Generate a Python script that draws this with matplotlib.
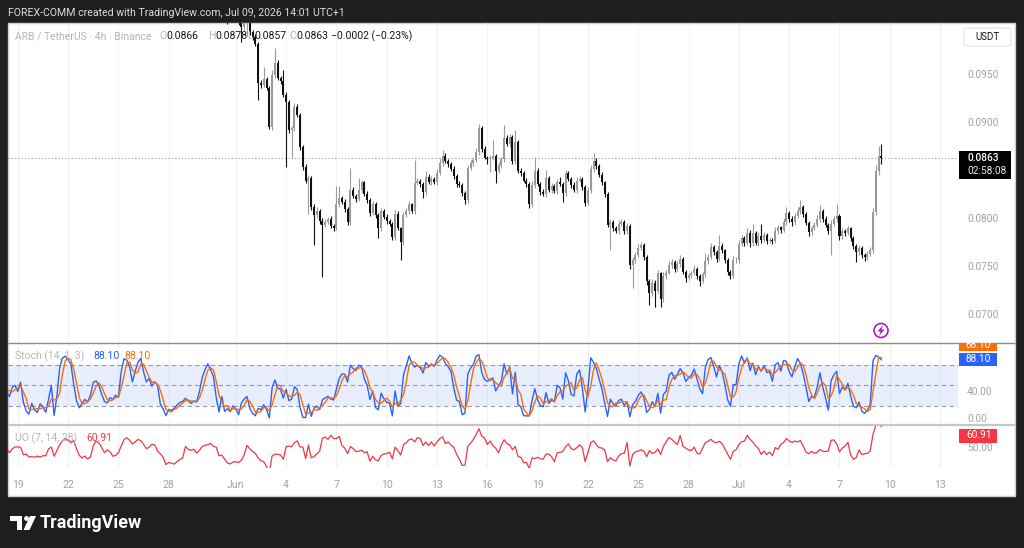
import numpy as np
import pandas as pd
import matplotlib
matplotlib.use("Agg")
import matplotlib.pyplot as plt
from matplotlib import transforms
from matplotlib.patches import Rectangle, FancyBboxPatch, Circle, Polygon

plt.rcParams["font.family"] = ["Roboto", "DejaVu Sans"]

# ARB/USDT 4h closes, in units of 0.0001 USDT
# May 13 .. May 31 (mostly above the visible price range)
may_close = [
    1075, 1080, 1072, 1068, 1076, 1083, 1078, 1070, 1065, 1073, 1081, 1086, 1079, 1074, 1069,
    1077, 1084, 1080, 1075, 1070, 1066, 1072, 1078, 1075, 1069, 1064, 1070, 1076, 1072,
    1070, 1074, 1071, 1069, 1072,
    1064, 1060, 1056, 1058, 1055, 1053, 1057, 1054, 1051, 1056, 1062,
    1042,
    1052, 1068, 1076, 1079, 1081, 1078,
    1064, 1052, 1047,
    1050, 1053, 1051, 1056,
    1065, 1067, 1064,
    1058, 1053, 1051, 1054, 1050, 1052, 1053,
    1064, 1071, 1073, 1070,
    1063, 1068,
    1077, 1082,
    1074, 1068, 1070, 1066, 1069, 1067, 1065,
    1052,
    1028, 1032,
    1031, 1033, 1036, 1038, 1037, 1039, 1037,
    1035, 1037, 1035,
    1041, 1044, 1042, 1045, 1043, 1042,
    1036, 1032, 1035, 1026,
    1010, 1008, 1012,
]
may_upper = [
    4, 3, 5, 2, 6, 3, 4, 2, 5, 3, 4, 6, 3, 2, 5, 4, 3, 6, 2, 4, 3, 5, 2, 4, 6, 3, 4, 2, 5, 3,
    4, 2, 6, 3, 5, 2, 4, 3, 6, 2, 5, 3, 4, 2, 3, 6, 2, 5, 4, 3, 6, 2, 4, 3, 5, 2, 4, 6, 3, 2,
    5, 4, 3, 6, 2, 4, 3, 5, 2, 6, 3, 4, 2, 5, 3, 6, 4, 2, 3, 5, 2, 4, 6, 3, 2, 5, 4, 3, 6, 2,
    4, 3, 5, 2, 6, 3, 4, 2, 5, 3, 4, 3, 5, 2, 6, 3, 4, 2, 5, 3,
]
may_lower = [
    3, 5, 2, 4, 3, 6, 2, 5, 3, 4, 2, 4, 5, 3, 6, 2, 4, 3, 5, 2, 6, 3, 4, 2, 5, 3, 4, 6, 2, 3,
    5, 2, 4, 3, 6, 3, 2, 5, 4, 3, 2, 6, 3, 4, 5, 2, 3, 4, 6, 2, 3, 5, 4, 2, 6, 3, 5, 2, 4, 3,
    4, 2, 6, 3, 5, 2, 4, 3, 2, 5, 3, 6, 2, 4, 3, 5, 2, 6, 3, 4, 5, 3, 2, 4, 6, 3, 5, 2, 4, 3,
    6, 2, 4, 3, 5, 3, 2, 4, 6, 3, 2, 4, 3, 5, 2, 4, 3, 7, 3, 2,
]

# Jun 1 00:00 .. Jul 9 12:00
jj_close = [
    1010, 1005, 1000, 1004, 1006, 995, 990, 983, 942, 940,
    946, 937, 896, 950, 963, 947, 944, 929, 922, 893,
    895, 917, 908, 875, 854, 840, 843, 812, 804, 808,
    798, 794, 797, 800, 793, 790, 815, 822, 818, 810,
    797, 830, 824, 821, 830, 838, 826, 820, 806, 815,
    804, 790, 808, 802, 798, 795, 781, 805, 790, 776,
    804, 808, 815, 808, 837, 840, 836, 828, 844, 838,
    842, 838, 848, 858, 866, 860, 857, 852, 845, 836,
    835, 827, 820, 853, 858, 861, 870, 895, 873, 864,
    862, 864, 866, 850, 856, 862, 884, 878, 885, 860,
    880, 850, 848, 840, 836, 815, 835, 850, 836, 828,
    826, 843, 830, 834, 829, 838, 836, 827, 848, 842,
    835, 830, 840, 842, 833, 817, 830, 852, 860, 855,
    846, 838, 826, 794, 797, 790, 787, 795, 797, 787,
    793, 752, 757, 762, 770, 773, 760, 735, 723, 733,
    725, 743, 716, 740, 744, 752, 755, 748, 753, 758,
    745, 738, 741, 743, 748, 740, 735, 742, 756, 760,
    771, 765, 758, 772, 767, 757, 745, 740, 757, 757,
    774, 780, 775, 785, 775, 785, 775, 782, 778, 783,
    777, 778, 777, 787, 791, 788, 797, 806, 800, 797,
    803, 808, 812, 805, 796, 786, 790, 794, 800, 808,
    800, 794, 787, 795, 800, 803, 782, 787, 785, 790,
    780, 772, 765, 770, 762, 760, 763, 768, 807, 850,
    866, 863,
]
jj_upper = [
    3, 4, 5, 3, 2, 3, 2, 3, 2, 3,
    12, 2, 2, 5, 15, 3, 2, 11, 3, 2,
    2, 4, 3, 2, 2, 3, 3, 2, 3, 4,
    2, 3, 3, 2, 3, 2, 19, 12, 2, 3,
    2, 23, 3, 2, 13, 3, 2, 3, 2, 4,
    3, 2, 3, 2, 3, 2, 2, 4, 3, 2,
    3, 3, 4, 2, 24, 3, 2, 2, 6, 3,
    3, 2, 4, 5, 6, 3, 2, 2, 3, 2,
    3, 2, 2, 3, 3, 2, 4, 4, 2, 3,
    2, 3, 16, 2, 3, 3, 14, 3, 4, 2,
    13, 2, 3, 2, 3, 2, 4, 15, 3, 2,
    3, 8, 2, 3, 2, 4, 6, 2, 3, 2,
    2, 3, 4, 3, 2, 2, 3, 4, 9, 3,
    2, 3, 2, 2, 3, 2, 3, 4, 3, 2,
    3, 2, 3, 3, 4, 3, 2, 2, 2, 4,
    3, 4, 2, 5, 3, 4, 3, 2, 3, 4,
    2, 2, 3, 3, 4, 2, 2, 3, 8, 3,
    4, 2, 2, 11, 3, 2, 2, 2, 4, 3,
    4, 3, 2, 5, 3, 10, 2, 4, 13, 3,
    2, 3, 2, 4, 3, 2, 4, 6, 2, 3,
    3, 4, 8, 2, 2, 2, 3, 3, 4, 6,
    2, 3, 2, 4, 3, 12, 2, 3, 2, 3,
    2, 2, 2, 3, 2, 2, 3, 3, 4, 6,
    10, 12,
]
jj_lower = [
    3, 3, 15, 3, 13, 3, 3, 3, 18, 3,
    2, 3, 2, 3, 3, 2, 3, 2, 68, 3,
    30, 3, 2, 3, 3, 3, 35, 3, 31, 3,
    3, 55, 3, 2, 3, 3, 2, 3, 2, 3,
    3, 3, 2, 3, 2, 3, 2, 3, 3, 2,
    3, 10, 3, 2, 3, 2, 3, 3, 2, 19,
    3, 2, 3, 2, 3, 2, 3, 6, 3, 2,
    3, 2, 3, 2, 3, 2, 3, 2, 3, 3,
    2, 3, 5, 3, 2, 3, 2, 3, 3, 2,
    5, 13, 3, 13, 2, 3, 3, 2, 3, 3,
    3, 2, 3, 2, 3, 4, 3, 3, 2, 3,
    2, 3, 2, 3, 2, 3, 2, 9, 3, 2,
    3, 2, 3, 2, 3, 4, 3, 3, 3, 3,
    2, 3, 3, 3, 27, 3, 2, 3, 2, 3,
    3, 4, 24, 3, 2, 3, 3, 4, 13, 3,
    17, 3, 8, 3, 3, 2, 3, 3, 2, 3,
    3, 4, 2, 3, 2, 3, 5, 2, 3, 3,
    2, 3, 3, 2, 3, 3, 4, 3, 2, 3,
    3, 2, 3, 2, 4, 3, 2, 3, 3, 2,
    3, 2, 3, 2, 3, 3, 2, 3, 3, 4,
    3, 2, 3, 3, 2, 4, 3, 2, 3, 3,
    3, 3, 3, 25, 2, 3, 4, 3, 3, 2,
    3, 3, 10, 3, 3, 4, 3, 2, 4, 3,
    4, 6,
]
first_open = 1070

tick_pos = [-78, -60, -42, -24, 0, 18, 36, 54, 72, 90, 108, 126, 144, 162, 180, 198, 216, 234, 252]
tick_lab = ["19", "22", "25", "28", "Jun", "4", "7", "10", "13", "16", "19", "22", "25",
            "28", "Jul", "4", "7", "10", "13"]
price_ticks = [0.0950, 0.0900, 0.0800, 0.0750, 0.0700]

# ---- build OHLC ----
close = np.array(may_close + jj_close) / 10000.0
openp = np.concatenate([[first_open / 10000.0], close[:-1]])
upper = np.array(may_upper + jj_upper) / 10000.0
lower = np.array(may_lower + jj_lower) / 10000.0
high = np.maximum(openp, close) + upper
low = np.minimum(openp, close) - lower
idx = np.arange(len(close)) - len(may_close)

# Stoch (14, 1, 3)
s_h = pd.Series(high).rolling(14).max()
s_l = pd.Series(low).rolling(14).min()
k = 100 * (pd.Series(close) - s_l) / (s_h - s_l)
d = k.rolling(3).mean()

# Ultimate oscillator (7, 14, 28)
pc = pd.Series(close).shift(1)
mn = np.minimum(pd.Series(low), pc)
mx = np.maximum(pd.Series(high), pc)
bp = pd.Series(close) - mn
tr = mx - mn
a7 = bp.rolling(7).sum() / tr.rolling(7).sum()
a14 = bp.rolling(14).sum() / tr.rolling(14).sum()
a28 = bp.rolling(28).sum() / tr.rolling(28).sum()
uo = 100 * (4 * a7 + 2 * a14 + a28) / 7

# ---- figure ----
W, H = 1024, 548
fig = plt.figure(figsize=(W / 100, H / 100), dpi=100, facecolor="#1e1e1e")


def box(x0, y0, x1, y1):
    return [x0 / W, 1 - y1 / H, (x1 - x0) / W, (y1 - y0) / H]


bg = fig.add_axes([0, 0, 1, 1], zorder=0)
bg.set_xlim(0, W)
bg.set_ylim(H, 0)
bg.axis("off")
bg.add_patch(Rectangle((8, 23), 1007, 473, facecolor="white", edgecolor="#cfcfcf", lw=1))

ax_p = fig.add_axes(box(8, 23, 958, 342), zorder=1)
ax_s = fig.add_axes(box(8, 343, 958, 424), zorder=1)
ax_u = fig.add_axes(box(8, 426, 958, 468), zorder=1)
xmin, xmax = -81.5, 258.4
for ax in (ax_p, ax_s, ax_u):
    ax.set_facecolor("none")
    ax.set_xlim(xmin, xmax)
    for s in ax.spines.values():
        s.set_visible(False)
    ax.set_xticks([])
    ax.set_yticks([])
    for t in tick_pos:
        ax.axvline(t, color="#f1f1f1", lw=0.8, zorder=0)

# candles
up = close >= openp
col = np.where(up, "#9a9a9a", "#111111")
body_lo = np.minimum(openp, close)
body_h = np.maximum(np.abs(close - openp), 0.00004)
ax_p.vlines(idx, low, high, colors=col, lw=0.8, zorder=2)
ax_p.bar(idx, body_h, bottom=body_lo, width=0.72, color=col, lw=0, zorder=3)
ax_p.set_ylim(0.06715, 0.10044)
ax_p.axhline(0.0863, color="#9a9a9a", lw=0.8, ls=(0, (1, 2)), zorder=1)

# stoch pane
vis = idx >= -83
ax_s.axhspan(20, 80, color="#2962ff", alpha=0.1, lw=0, zorder=0)
for lvl in (80, 50, 20):
    ax_s.axhline(lvl, color="#9a9a9a", lw=0.8, ls=(0, (4, 3)), zorder=1)
ax_s.plot(idx[vis], k[vis], color="#2962ff", lw=1.0, zorder=3)
ax_s.plot(idx[vis], d[vis], color="#ff6d00", lw=1.0, zorder=4)
ax_s.set_ylim(-7.4, 112.6)

# UO pane
ax_u.plot(idx[vis], uo[vis], color="#f23645", lw=0.9, zorder=3)
ax_u.set_ylim(32.3, 69.5)

# ---- overlay texts (pixel coordinates) ----
ov = fig.add_axes([0, 0, 1, 1], zorder=5)
ov.set_xlim(0, W)
ov.set_ylim(H, 0)
ov.axis("off")
ov.set_facecolor("none")

ov.hlines(342.5, 8, 1015, color="#8c8c8c", lw=1)
ov.hlines(424.5, 8, 1015, color="#c6c6c6", lw=1.6)

ov.text(8, 13, "FOREX-COMM created with TradingView.com, Jul 09, 2026 14:01 UTC+1",
        color="#dcdcdc", fontsize=7.6, va="center", ha="left")

gray = "#a3a3a3"
lg = "#b5b5b5"
fs = 7.5
ov.text(15, 36, "ARB / TetherUS · 4h · Binance", color=lg, fontsize=fs, va="center")
for x0, lab, val in [(159, "O", "0.0866"), (208, "H", "0.0878"), (247, "L", "0.0857"), (289, "C", "0.0863")]:
    ov.text(x0, 36, lab, color=lg, fontsize=fs, va="center")
    ov.text(x0 + 7, 36, val, color="#131722", fontsize=fs, va="center")
ov.text(331, 36, "−0.0002 (−0.23%)", color="#131722", fontsize=fs, va="center")

# price scale
tr_p = transforms.blended_transform_factory(ov.transData, ax_p.transData)
for p in price_ticks:
    ov.text(967, p, f"{p:.4f}", transform=tr_p, color=gray, fontsize=7.3, va="center")
ov.add_patch(FancyBboxPatch((964, 28), 47, 18, boxstyle="round,pad=0,rounding_size=3",
                            facecolor="white", edgecolor="#e3e3e3", lw=0.8))
ov.text(987.5, 37, "USDT", color="#131722", fontsize=7, ha="center", va="center")
ov.add_patch(Rectangle((959, 151), 52, 28, facecolor="#000000", lw=0))
ov.text(967, 158, "0.0863", color="white", fontsize=7.3, va="center", fontweight="medium")
ov.text(967, 171.5, "02:58:08", color="#e6e6e6", fontsize=7.3, va="center")

# stoch labels
ov.text(15, 356, "Stoch (14, 1, 3)", color=lg, fontsize=fs, va="center")
ov.text(93, 356, "88.10", color="#2962ff", fontsize=fs, va="center")
ov.text(124, 356, "88.10", color="#ff6d00", fontsize=fs, va="center")
clip = Rectangle((958, 343.5), 57, 80, transform=ov.transData)
r = Rectangle((959, 338), 38, 13, facecolor="#ff6d00", lw=0)
ov.add_patch(r)
r.set_clip_path(clip)
t = ov.text(966, 345, "88.10", color="white", fontsize=7.3, va="center")
t.set_clip_path(clip)
ov.add_patch(Rectangle((959, 353), 38, 13, facecolor="#2962ff", lw=0))
ov.text(966, 359.5, "88.10", color="white", fontsize=7.3, va="center")
ov.text(967, 392, "40.00", color=gray, fontsize=7.3, va="center")
ov.text(967, 419, "0.00", color=gray, fontsize=7.3, va="center")

# UO labels
ov.text(15, 438, "UO (7, 14, 28)", color=lg, fontsize=fs, va="center")
ov.text(86, 438, "60.91", color="#f23645", fontsize=fs, va="center")
ov.add_patch(Rectangle((959, 428.5), 38, 14, facecolor="#f23645", lw=0))
ov.text(966, 435.5, "60.91", color="white", fontsize=7.3, va="center")
ov.text(967, 448, "50.00", color=gray, fontsize=7.3, va="center")

# date axis
tr_d = transforms.blended_transform_factory(ax_p.transData, ov.transData)
for tp, tl in zip(tick_pos, tick_lab):
    ov.text(tp, 485, tl, transform=tr_d, color=gray, fontsize=7.6, ha="center", va="center")

# alert icon
ov.add_patch(Circle((881, 330.5), 7, facecolor="white", edgecolor="#9c27b0", lw=1.2))
ov.add_patch(Polygon([(883, 325), (877.5, 331.5), (880.5, 331.5), (879, 336), (884.5, 329.5),
                      (881.5, 329.5)], closed=True, facecolor="#9c27b0", lw=0))

# TradingView logo
ov.add_patch(Polygon([(10, 516), (22, 516), (22, 530), (17, 530), (17, 520.5), (10, 520.5)],
                     closed=True, facecolor="white", lw=0))
ov.add_patch(Circle((26.5, 518.5), 2.4, facecolor="white", lw=0))
ov.add_patch(Polygon([(30, 516), (36, 516), (29.5, 530), (23.5, 530)], closed=True,
                     facecolor="white", lw=0))
ov.text(40, 522.5, "TradingView", color="white", fontsize=13, fontweight="bold", va="center")

fig.savefig("out.png", dpi=100, facecolor=fig.get_facecolor())
